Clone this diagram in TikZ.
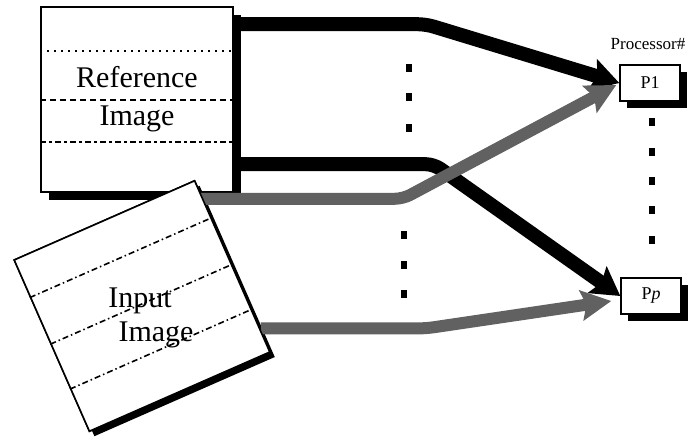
\documentclass[tikz,border=0pt]{standalone}
\usepackage{fontspec}
\setmainfont{Liberation Serif}
\usetikzlibrary{arrows.meta,calc,shadows}

\definecolor{flowgray}{gray}{0.38}

\tikzset{
  imgbox/.style={draw, line width=1.6pt, fill=white, inner sep=0pt},
  boxshadow/.style={drop shadow={shadow xshift=#1, shadow yshift=-#1, fill=black, opacity=1}},
  procbox/.style={draw, line width=1.4pt, fill=white, minimum width=60pt, minimum height=36pt,
    inner sep=0pt, font=\fontsize{18}{20}\selectfont, boxshadow=7pt},
  blackflow/.style={line width=14pt, rounded corners=8pt, -{Stealth[length=28pt, width=32pt, inset=5pt]}},
  grayflow/.style={draw=flowgray, line width=12pt, rounded corners=8pt, -{Stealth[length=30pt, width=30pt, inset=5pt]}},
  vdot/.style={fill, inner sep=0pt, minimum width=6.5pt, minimum height=8pt}
}

\begin{document}
\begin{tikzpicture}[x=1pt, y=-1pt]
\useasboundingbox (0,0) rectangle (692,439);

% Reference block
\node[imgbox, boxshadow=8pt, minimum width=192pt, minimum height=185pt, align=center,
  font=\fontsize{30}{38}\selectfont] (ref) at (137,99.5) {Reference\\Image};
\draw[line width=1.3pt, dash pattern=on 2pt off 5pt]
  ($(ref.north west)!0.24!(ref.south west)$) -- ($(ref.north east)!0.24!(ref.south east)$);
\draw[line width=2pt, dash pattern=on 6pt off 4pt]
  ($(ref.north west)!0.5!(ref.south west)$) -- ($(ref.north east)!0.5!(ref.south east)$);
\draw[line width=2pt, dash pattern=on 6pt off 3pt on 3pt off 3pt]
  ($(ref.north west)!0.73!(ref.south west)$) -- ($(ref.north east)!0.73!(ref.south east)$);

% Processors
\node[procbox] (p1) at (650,83) {P1};
\node[procbox] (pp) at (651,296) {P\textit{p}};
\node[font=\fontsize{17}{19}\selectfont] (proc) at (648,44) {Processor\#};

% Dots
\foreach \y in {68,97,128} \node[vdot] at (409,\y) {};
\foreach \y in {235,265,294} \node[vdot] at (404,\y) {};
\foreach \y in {122,152,181,210,240} \node[vdot] at (652,\y) {};

% Reference rows to processors
\draw[blackflow] ($(ref.north east)+(0,18)$) -- ++(192,0) -- (p1.west);
\draw[blackflow] ($(ref.north east)+(0,158)$) -- ++(200,0) -- (pp.west);

% Input block (tilted)
\node[imgbox, boxshadow=5pt, rotate=23.7, minimum width=197pt, minimum height=187pt] (inp) at (142,306) {};

% Input rows to processors
\draw[grayflow] ($(inp.north east)+(0,19)$) -- ++(208,0) -- ($(p1.west)+(-3,2)$);
\draw[grayflow] ($(inp.south east)+(-10,-24)$) -- ++(165,0) -- ($(pp.west)+(-9,5)$);

% redraw the tilted block over the flows
\node[imgbox, rotate=23.7, minimum width=197pt, minimum height=187pt] (inpfront) at (142,306) {};
\foreach \f in {0.22,0.49,0.75}
  \draw[line width=1.6pt, dash pattern=on 6pt off 3pt on 1.5pt off 3pt]
    ($(inpfront.north west)!\f!(inpfront.south west)$) -- ($(inpfront.north east)!\f!(inpfront.south east)$);
\node[font=\fontsize{30}{36}\selectfont] (intop) at (140,301) {Input};
\node[font=\fontsize{30}{36}\selectfont] (inbot) at (156,335) {Image};
\end{tikzpicture}
\end{document}
